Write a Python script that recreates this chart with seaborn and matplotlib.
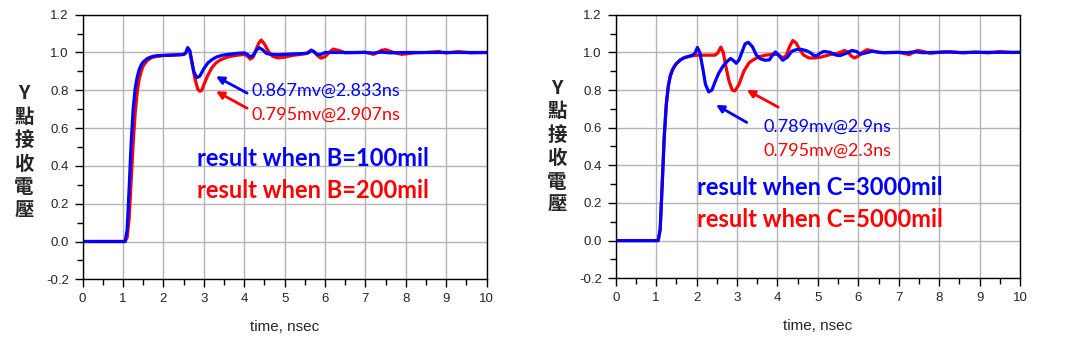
import matplotlib
matplotlib.use("Agg")
import matplotlib.pyplot as plt
import seaborn as sns
import numpy as np
from matplotlib.ticker import MultipleLocator

# ---------------- data ----------------
t_b100 = [0, 1.0, 1.05, 1.1, 1.15, 1.2, 1.25, 1.3, 1.35, 1.4, 1.45, 1.5, 1.6, 1.7, 1.8, 2.0, 2.2, 2.4,
          2.5, 2.55, 2.6, 2.65, 2.7, 2.75, 2.82, 2.9, 3.0, 3.1, 3.2, 3.3, 3.45, 3.6, 3.8, 4.0, 4.08,
          4.15, 4.22, 4.3, 4.36, 4.45, 4.55, 4.66, 4.8, 5.0, 5.3, 5.5, 5.6, 5.66, 5.72, 5.8, 5.9,
          6.0, 6.3, 6.6, 7.0, 7.2, 7.4, 7.6, 8.0, 8.4, 8.8, 9.2, 9.6, 10.0]
v_b100 = [0, 0, 0.0, 0.06, 0.28, 0.52, 0.70, 0.81, 0.87, 0.91, 0.935, 0.95, 0.968, 0.977, 0.982, 0.985, 0.986, 0.988,
          0.99, 0.998, 1.026, 1.01, 0.955, 0.90, 0.867, 0.875, 0.915, 0.945, 0.962, 0.975, 0.985, 0.99, 0.995, 0.998, 0.99,
          0.976, 0.985, 1.012, 1.026, 1.015, 0.995, 0.99, 0.988, 0.99, 0.993, 0.995, 1.0, 1.012, 1.005, 0.99, 0.99,
          1.0, 1.0, 1.0, 1.0, 0.997, 1.002, 0.998, 1.0, 1.0, 1.0, 1.0, 1.0, 1.0]

t_b200 = [0, 1.05, 1.1, 1.15, 1.2, 1.25, 1.3, 1.35, 1.4, 1.45, 1.5, 1.6, 1.7, 1.8, 2.0, 2.2, 2.4, 2.5,
          2.55, 2.6, 2.65, 2.7, 2.78, 2.85, 2.9, 2.95, 3.0, 3.1, 3.2, 3.3, 3.4, 3.6, 3.8, 4.0, 4.08, 4.15,
          4.22, 4.3, 4.36, 4.42, 4.5, 4.6, 4.7, 4.82, 5.0, 5.2, 5.4, 5.55, 5.65, 5.75, 5.82, 5.9, 6.0,
          6.1, 6.2, 6.35, 6.5, 6.8, 7.0, 7.2, 7.4, 7.5, 7.7, 7.9, 8.2, 8.5, 8.8, 9.0, 9.3, 9.6, 10.0]
v_b200 = [0, 0, 0.02, 0.12, 0.32, 0.52, 0.68, 0.79, 0.86, 0.90, 0.93, 0.958, 0.972, 0.978, 0.984, 0.986, 0.988, 0.99,
          0.996, 1.022, 1.01, 0.95, 0.86, 0.805, 0.795, 0.80, 0.83, 0.88, 0.92, 0.945, 0.96, 0.977, 0.985, 0.99, 0.98, 0.965,
          0.975, 1.02, 1.05, 1.066, 1.045, 1.005, 0.98, 0.972, 0.975, 0.985, 0.99, 0.995, 1.012, 1.0, 0.982, 0.97, 0.978,
          1.0, 1.018, 1.01, 0.998, 1.0, 1.002, 0.99, 1.012, 1.015, 1.0, 0.99, 0.998, 1.0, 1.005, 0.997, 1.005, 0.998, 1.0]

t_c3000 = [0, 1.0, 1.05, 1.1, 1.15, 1.2, 1.25, 1.3, 1.35, 1.4, 1.45, 1.5, 1.6, 1.7, 1.8, 1.9, 1.96, 2.02,
           2.08, 2.15, 2.22, 2.3, 2.38, 2.46, 2.55, 2.65, 2.75, 2.84, 2.92, 2.98, 3.05, 3.12, 3.2, 3.28,
           3.38, 3.48, 3.58, 3.7, 3.8, 3.88, 3.95, 4.03, 4.13, 4.25, 4.35, 4.46, 4.58, 4.7, 4.8, 4.9,
           4.98, 5.05, 5.15, 5.3, 5.45, 5.55, 5.7, 5.84, 5.95, 6.05, 6.2, 6.35, 6.5, 6.7, 7.0, 7.2,
           7.4, 7.6, 7.9, 8.2, 8.5, 8.8, 9.1, 9.4, 9.7, 10.0]
v_c3000 = [0, 0, 0.0, 0.06, 0.30, 0.55, 0.72, 0.82, 0.875, 0.905, 0.925, 0.94, 0.96, 0.972, 0.978, 0.985, 0.995, 1.026,
           1.0, 0.92, 0.83, 0.79, 0.80, 0.845, 0.89, 0.925, 0.95, 0.968, 0.955, 0.942, 0.96, 1.0, 1.045, 1.053,
           1.03, 0.985, 0.965, 0.958, 0.96, 0.985, 1.002, 0.985, 0.958, 0.975, 1.005, 1.014, 1.016, 1.01, 1.0, 0.984,
           0.982, 0.995, 1.005, 1.0, 0.985, 0.983, 0.995, 1.01, 1.005, 0.99, 0.998, 1.006, 1.0, 0.998, 1.0, 0.998,
           1.003, 0.998, 1.0, 1.002, 0.999, 1.0, 1.0, 1.0, 1.0, 1.0]

t_c5000 = [0, 1.0, 1.05, 1.1, 1.15, 1.2, 1.25, 1.3, 1.35, 1.4, 1.45, 1.5, 1.6, 1.7, 1.8, 1.9, 2.0, 2.2,
           2.45, 2.52, 2.6, 2.66, 2.72, 2.8, 2.88, 2.95, 3.05, 3.17, 3.3, 3.4, 3.55, 3.7, 3.85, 4.0, 4.07,
           4.14, 4.22, 4.3, 4.38, 4.46, 4.55, 4.65, 4.78, 4.92, 5.08, 5.3, 5.5, 5.66, 5.75, 5.82, 5.9,
           6.0, 6.1, 6.22, 6.4, 6.6, 6.8, 7.0, 7.26, 7.46, 7.6, 7.78, 8.0, 8.3, 8.6, 8.9, 9.2, 9.5, 9.8, 10.0]
v_c5000 = [0, 0, 0.0, 0.06, 0.30, 0.55, 0.72, 0.82, 0.875, 0.905, 0.925, 0.94, 0.96, 0.972, 0.978, 0.982, 0.985, 0.985,
           0.985, 0.995, 1.028, 1.0, 0.93, 0.85, 0.80, 0.795, 0.83, 0.90, 0.945, 0.96, 0.977, 0.985, 0.988, 0.99, 0.98,
           0.97, 0.985, 1.03, 1.063, 1.05, 1.015, 0.985, 0.97, 0.97, 0.975, 0.988, 0.995, 1.01, 1.0, 0.982, 0.97,
           0.98, 1.0, 1.014, 1.005, 0.998, 1.0, 1.0, 0.988, 1.01, 1.005, 0.995, 1.0, 1.003, 0.997, 1.002, 0.997, 1.004, 0.999, 1.0]

x_ticks = [0, 1, 2, 3, 4, 5, 6, 7, 8, 9, 10]
y_ticks = [-0.2, 0.0, 0.2, 0.4, 0.6, 0.8, 1.0, 1.2]

ylabel_text = "Y\n點\n接\n收\n電\n壓"
xlabel_text = "time, nsec"

# ---------------- figure ----------------
sns.set_style("white")
plt.rcParams['font.family'] = ['Liberation Sans', 'DejaVu Sans']

BLUE = "#0000FF"
RED = "#FF0000"

fig = plt.figure(figsize=(10.68, 3.48), dpi=100)
ax1 = fig.add_axes([0.0774, 0.1974, 0.3783, 0.7604])
ax2 = fig.add_axes([0.5765, 0.2003, 0.3786, 0.7575])


def style_axes(ax):
    ax.set_xlim(0, 10)
    ax.set_ylim(-0.2, 1.2)
    ax.set_xticks(x_ticks)
    ax.set_yticks(y_ticks)
    ax.set_xticklabels([str(v) for v in x_ticks])
    ax.set_yticklabels([f"{v:.1f}" for v in y_ticks])
    ax.xaxis.set_minor_locator(MultipleLocator(0.5))
    ax.yaxis.set_minor_locator(MultipleLocator(0.1))
    ax.grid(True, which='major', color='#b4b4b4', linewidth=1.0)
    ax.set_axisbelow(True)
    ax.tick_params(which='major', direction='out', length=6, width=1, color='black',
                   labelsize=9.5, pad=4, bottom=True, left=True)
    ax.tick_params(which='minor', direction='out', length=4, width=1, color='black',
                   bottom=True, left=True)
    for s in ax.spines.values():
        s.set_color('black')
        s.set_linewidth(1.0)
        s.set_visible(True)
    ax.set_xlabel(xlabel_text, fontsize=11, labelpad=11)
    ax.set_ylabel("")


# left panel
sns.lineplot(x=t_b200, y=v_b200, ax=ax1, color=RED, linewidth=2.3, sort=False, estimator=None)
sns.lineplot(x=t_b100, y=v_b100, ax=ax1, color=BLUE, linewidth=2.3, sort=False, estimator=None)
style_axes(ax1)

# right panel
sns.lineplot(x=t_c5000, y=v_c5000, ax=ax2, color=RED, linewidth=2.3, sort=False, estimator=None)
sns.lineplot(x=t_c3000, y=v_c3000, ax=ax2, color=BLUE, linewidth=2.3, sort=False, estimator=None)
style_axes(ax2)

arrow_kw = dict(arrowstyle='-|>', mutation_scale=11, linewidth=2.0, shrinkA=0, shrinkB=0)

# annotations left
ax1.annotate("", xy=(3.30, 0.874), xytext=(4.07, 0.785),
             arrowprops=dict(color=BLUE, **arrow_kw))
ax1.annotate("", xy=(3.30, 0.795), xytext=(4.07, 0.705),
             arrowprops=dict(color=RED, **arrow_kw))
ax1.text(4.19, 0.797, "0.867mv@2.833ns", color=BLUE, fontsize=13, family='Lato', va='center', ha='left')
ax1.text(4.19, 0.668, "0.795mv@2.907ns", color=RED, fontsize=13, family='Lato', va='center', ha='left')
ax1.text(2.82, 0.44, "result when B=100mil", color=BLUE, fontsize=17, family='Lato',
         fontweight='bold', va='center', ha='left')
ax1.text(2.82, 0.27, "result when B=200mil", color=RED, fontsize=17, family='Lato',
         fontweight='bold', va='center', ha='left')

# annotations right
ax2.annotate("", xy=(3.24, 0.80), xytext=(4.02, 0.709),
             arrowprops=dict(color=RED, **arrow_kw))
ax2.annotate("", xy=(2.48, 0.721), xytext=(3.24, 0.628),
             arrowprops=dict(color=BLUE, **arrow_kw))
ax2.text(3.65, 0.606, "0.789mv@2.9ns", color=BLUE, fontsize=13, family='Lato', va='center', ha='left')
ax2.text(3.65, 0.478, "0.795mv@2.3ns", color=RED, fontsize=13, family='Lato', va='center', ha='left')
ax2.text(2.0, 0.28, "result when C=3000mil", color=BLUE, fontsize=17, family='Lato',
         fontweight='bold', va='center', ha='left')
ax2.text(2.0, 0.113, "result when C=5000mil", color=RED, fontsize=17, family='Lato',
         fontweight='bold', va='center', ha='left')

# vertical y labels
for xf, yf in [(0.0225, 0.562), (0.5215, 0.578)]:
    fig.text(xf, yf, ylabel_text, ha='center', va='center', fontsize=14, fontweight='bold',
             linespacing=1.3, family=['Noto Sans CJK TC', 'DejaVu Sans'])

fig.savefig("out.png", dpi=100)
